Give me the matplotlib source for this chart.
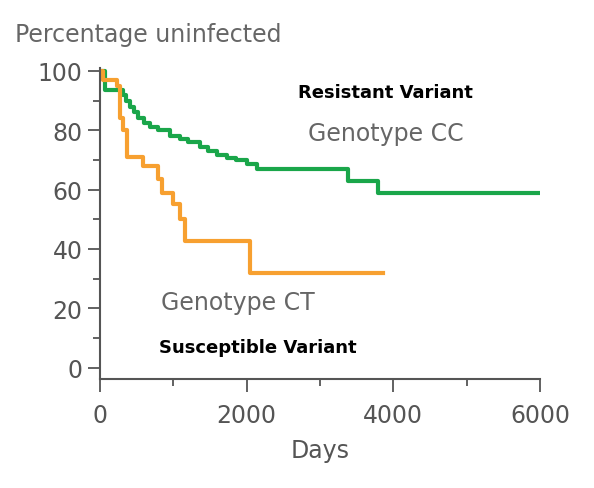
import matplotlib
matplotlib.use("Agg")
import matplotlib.pyplot as plt
from matplotlib.ticker import MultipleLocator

cc_days = [0, 70, 320, 360, 410, 460, 520, 600, 680, 800, 960, 1100, 1200, 1360, 1480, 1600, 1730, 1850, 2000, 2140, 3380, 3790, 6030]
cc_pct  = [100, 93.5, 92, 90, 88, 86, 84, 82.5, 81, 80, 78, 77, 76, 74.5, 73, 71.5, 70.5, 70, 68.5, 67, 63, 59, 59]
ct_days = [0, 40, 230, 270, 310, 370, 590, 790, 850, 1000, 1090, 1160, 2050, 3860]
ct_pct  = [100, 97, 95, 84, 80, 71, 68, 63.5, 59, 55, 50, 42.7, 32, 32]

fig = plt.figure(figsize=(5.94, 4.89), dpi=100)
ax = fig.add_axes([0.168, 0.222, 0.741, 0.637])
ax.step(cc_days, cc_pct, where="post", color="#1aa64a", lw=3)
ax.step(ct_days, ct_pct, where="post", color="#f7a030", lw=3)
ax.set_xlim(0, 6000)
ax.set_ylim(-4, 101)
for s in ["top", "right"]:
    ax.spines[s].set_visible(False)
for s in ["left", "bottom"]:
    ax.spines[s].set_color("#555555")
    ax.spines[s].set_linewidth(1.5)
ax.set_xticks([0, 2000, 4000, 6000])
ax.set_yticks([0, 20, 40, 60, 80, 100])
ax.xaxis.set_minor_locator(MultipleLocator(1000))
ax.yaxis.set_minor_locator(MultipleLocator(10))
ax.tick_params(which="both", colors="#555555", labelsize=17, width=1.3, labelcolor="#555555")
ax.tick_params(which="major", length=9)
ax.tick_params(which="minor", length=5)
ax.tick_params(axis="x", pad=8)
ax.set_xlabel("Days", fontsize=17, color="#555555", labelpad=8)
fig.text(0.025, 0.915, "Percentage uninfected", fontsize=17, color="#666666")
ax.text(3900, 93, "Resistant Variant", fontsize=13, fontweight="semibold", color="black", ha="center", va="center")
ax.text(3900, 79, "Genotype CC", fontsize=17, color="#666666", ha="center", va="center")
ax.text(1880, 22, "Genotype CT", fontsize=17, color="#666666", ha="center", va="center")
ax.text(2150, 7, "Susceptible Variant", fontsize=13, fontweight="semibold", color="black", ha="center", va="center")
fig.savefig("out.png", dpi=100)
